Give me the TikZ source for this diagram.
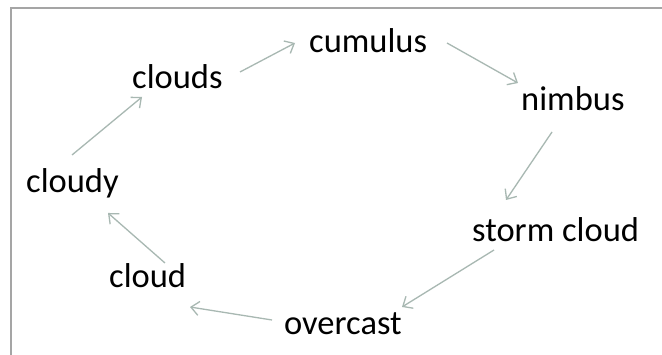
\documentclass[tikz,border=0pt]{standalone}
\usepackage{fontspec}
\setmainfont{Carlito}
\usetikzlibrary{arrows.meta}
\definecolor{arrgray}{RGB}{168,184,178}
\definecolor{framegray}{RGB}{165,165,165}
\tikzset{
  word/.style={anchor=base west, inner sep=0pt, font=\fontsize{34.5pt}{40pt}\selectfont, text=black},
  arr/.style={draw=arrgray, line width=1.3pt, -{Straight Barb[length=8pt,width=14pt,line width=1.3pt]}},
  frame/.style={draw=framegray, line width=1.5pt}
}
\begin{document}
\begin{tikzpicture}[x=1pt,y=-1pt]
\useasboundingbox (0,0) rectangle (662,355);
\fill[white] (0,0) rectangle (662,355);
\draw[frame] (11,355) -- (11,8) -- (662,8);
\node[word] (cumulus) at (309,53) {cumulus};
\node[word] (clouds) at (132,89) {clouds};
\node[word] (nimbus) at (521,111) {nimbus};
\node[word] (cloudy) at (26,193) {cloudy};
\node[word] (storm) at (472,242) {storm cloud};
\node[word] (cloud) at (109,288) {cloud};
\node[word] (overcast) at (284,335) {overcast};
\draw[arr] ([shift={(108,-17)}]clouds.base west) -- ([shift={(-14,-10)}]cumulus.base west);
\draw[arr] ([shift={(138,-10)}]cumulus.base west) -- ([shift={(-3,-28)}]nimbus.base west);
\draw[arr] ([shift={(31,21)}]nimbus.base west) -- ([shift={(34,-42)}]storm.base west);
\draw[arr] ([shift={(22,8)}]storm.base west) -- ([shift={(118,-28)}]overcast.base west);
\draw[arr] ([shift={(-12,-15)}]overcast.base west) -- ([shift={(81,19)}]cloud.base west);
\draw[arr] ([shift={(56,-25)}]cloud.base west) -- ([shift={(82,20)}]cloudy.base west);
\draw[arr] ([shift={(46,-38)}]cloudy.base west) -- ([shift={(10,8)}]clouds.base west);
\end{tikzpicture}
\end{document}
